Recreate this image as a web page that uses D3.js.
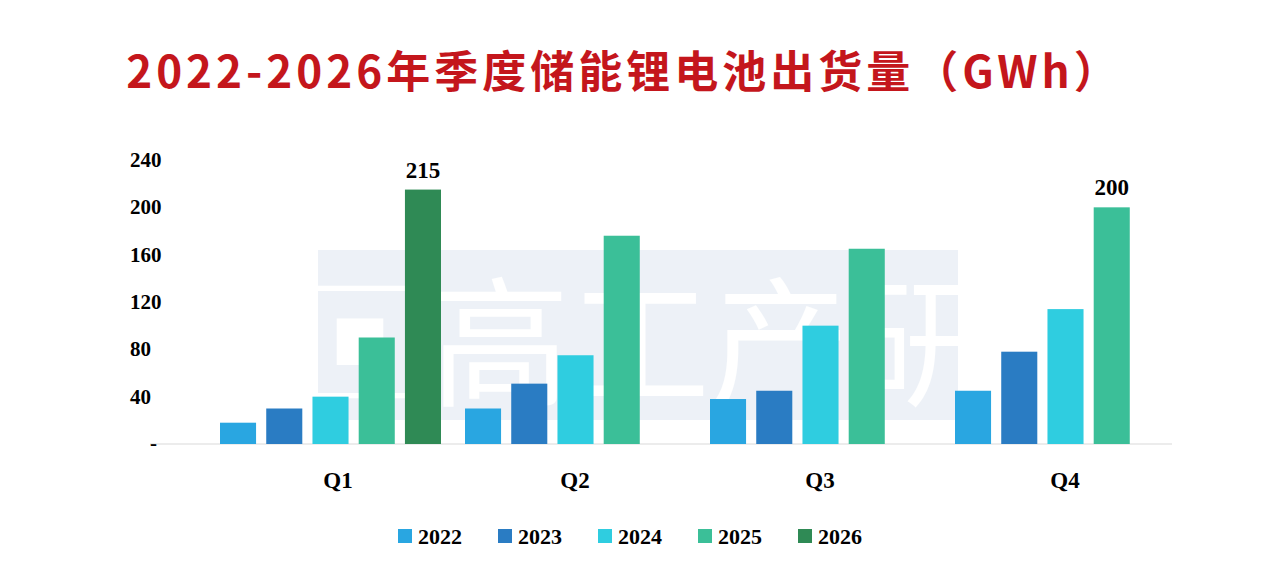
<!DOCTYPE html>
<html><head><meta charset="utf-8">
<script src="https://cdn.jsdelivr.net/npm/d3@7"></script>
<style>body{margin:0;background:#fff}</style>
</head><body>
<svg id="chart" width="1279" height="572"></svg>
<script>
const quarters = ['Q1', 'Q2', 'Q3', 'Q4']
const years = ['2022', '2023', '2024', '2025', '2026']
const v2022 = [18, 30, 38, 45]
const v2023 = [30, 51, 45, 78]
const v2024 = [40, 75, 100, 114]
const v2025 = [90, 176, 165, 200]
const v2026 = [215, null, null, null]
const yTicks = [40, 80, 120, 160, 200, 240]
const colors = ['#29a6e1', '#2a7cc3', '#2fcde0', '#3bbf98', '#2f8a55']

const series = [v2022, v2023, v2024, v2025, v2026]
const svg = d3.select('#chart')
const serif = '"Liberation Serif", "Times New Roman", serif'

svg.append('text')
  .attr('x', 624).attr('y', 88)
  .attr('text-anchor', 'middle')
  .style('font-family', '"Noto Sans CJK SC", sans-serif')
  .style('font-weight', 'bold')
  .style('font-size', '44px')
  .style('letter-spacing', '4px')
  .style('fill', '#c4161c')
  .text('2022-2026年季度储能锂电池出货量（GWh）')

// faint watermark
const wm = svg.append('g').style('opacity', 0.18)
wm.append('rect').attr('x', 318).attr('y', 250).attr('width', 640).attr('height', 170).style('fill', '#9fb7d6')
wm.append('text').attr('x', 640).attr('y', 395).attr('text-anchor', 'middle')
  .style('font-family', '"Noto Sans CJK SC", sans-serif').style('font-size', '140px')
  .style('fill', '#ffffff').text('▣高工产研')

const x0 = d3.scaleBand().domain(quarters).range([220, 1200])
const x1 = d3.scaleBand().domain(years).range([0, 221]).paddingInner(0.22)
const y = d3.scaleLinear().domain([0, 240]).range([444, 160])

svg.append('line').attr('x1', 150).attr('x2', 1172).attr('y1', y(0)).attr('y2', y(0))
  .style('stroke', '#d9d9d9')

svg.selectAll('.ytick').data(yTicks).enter().append('text')
  .attr('x', 130).attr('y', d => y(d) + 7)
  .attr('text-anchor', 'start')
  .style('font-family', serif).style('font-weight', 'bold').style('font-size', '21px')
  .text(d => d)
svg.append('text').attr('x', 150).attr('y', y(0) + 6).attr('text-anchor', 'start')
  .style('font-family', serif).style('font-weight', 'bold').style('font-size', '21px').text('-')

series.forEach((vals, si) => {
  const g = svg.append('g')
  vals.forEach((v, qi) => {
    if (v == null) return
    g.append('rect')
      .attr('x', x0(quarters[qi]) + x1(years[si]))
      .attr('y', y(v))
      .attr('width', x1.bandwidth())
      .attr('height', y(0) - y(v))
      .style('fill', colors[si])
  })
})

// value labels on the peaks
const labeled = [[0, 4, v2026[0]], [3, 3, v2025[3]]]
labeled.forEach(([qi, si, v]) => {
  svg.append('text')
    .attr('x', x0(quarters[qi]) + x1(years[si]) + x1.bandwidth() / 2)
    .attr('y', y(v) - 12)
    .attr('text-anchor', 'middle')
    .style('font-family', serif).style('font-weight', 'bold').style('font-size', '23px')
    .text(v)
})

svg.selectAll('.qlabel').data(quarters).enter().append('text')
  .attr('x', (d, i) => x0(d) + (i === 0 ? 118 : 110))
  .attr('y', 488)
  .attr('text-anchor', 'middle')
  .style('font-family', serif).style('font-weight', 'bold').style('font-size', '23px')
  .text(d => d)

const leg = svg.append('g')
years.forEach((yr, i) => {
  const lx = 398 + i * 100
  leg.append('rect').attr('x', lx).attr('y', 529).attr('width', 14).attr('height', 14).style('fill', colors[i])
  leg.append('text').attr('x', lx + 20).attr('y', 544)
    .style('font-family', serif).style('font-weight', 'bold').style('font-size', '22px')
    .text(yr)
})
</script>
</body></html>
